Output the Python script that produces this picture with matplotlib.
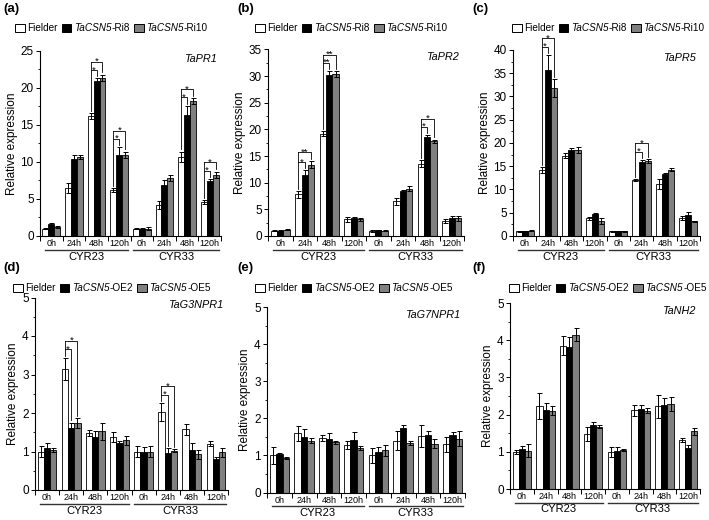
import matplotlib
matplotlib.use("Agg")
import matplotlib.pyplot as plt
import matplotlib.transforms as mtransforms
from matplotlib.ticker import MultipleLocator, FixedLocator
from matplotlib.offsetbox import HPacker, TextArea, DrawingArea, AnchoredOffsetbox
from matplotlib.patches import Rectangle

plt.rcParams['font.family'] = ['Liberation Sans', 'DejaVu Sans']

# ---------------- data ----------------
time_labels = ["0h", "24h", "48h", "120h", "0h", "24h", "48h", "120h"]
strain_labels = ["CYR23", "CYR33"]

# (a) TaPR1
pr1_fielder = [1.0, 6.5, 16.2, 6.2, 1.0, 4.2, 10.7, 4.6]
pr1_fielder_err = [0.1, 0.7, 0.4, 0.3, 0.1, 0.5, 0.7, 0.3]
pr1_ri8 = [1.6, 10.4, 21.0, 11.0, 1.0, 6.9, 16.4, 7.4]
pr1_ri8_err = [0.1, 0.5, 0.3, 1.0, 0.1, 0.7, 1.2, 0.3]
pr1_ri10 = [1.2, 10.7, 21.4, 11.0, 1.0, 7.8, 18.2, 8.3]
pr1_ri10_err = [0.1, 0.3, 0.4, 0.4, 0.2, 0.4, 0.4, 0.4]
pr1_sig = [(2, "*", "*"), (3, "*", "*"), (6, "*", "*"), (7, "*", "*")]

# (b) TaPR2
pr2_fielder = [1.0, 7.8, 19.2, 3.1, 1.0, 6.5, 13.6, 2.8]
pr2_fielder_err = [0.1, 0.6, 0.5, 0.4, 0.2, 0.7, 0.6, 0.3]
pr2_ri8 = [1.0, 11.5, 30.3, 3.3, 1.1, 8.5, 18.6, 3.3]
pr2_ri8_err = [0.1, 0.8, 0.6, 0.3, 0.1, 0.2, 0.3, 0.5]
pr2_ri10 = [1.2, 13.4, 30.4, 3.1, 1.0, 8.9, 17.8, 3.3]
pr2_ri10_err = [0.1, 0.7, 0.5, 0.3, 0.1, 0.4, 0.3, 0.5]
pr2_sig = [(1, "*", "**"), (2, "**", "**"), (6, "*", "*")]

# (c) TaPR5
pr5_fielder = [1.0, 14.2, 17.3, 3.8, 1.0, 12.0, 11.2, 3.9]
pr5_fielder_err = [0.1, 0.6, 0.6, 0.3, 0.1, 0.2, 1.0, 0.5]
pr5_ri8 = [1.0, 35.7, 18.5, 4.8, 1.0, 15.9, 13.3, 4.5]
pr5_ri8_err = [0.1, 3.2, 0.5, 0.1, 0.1, 0.4, 0.3, 0.7]
pr5_ri10 = [1.1, 31.8, 18.5, 3.2, 1.0, 16.1, 14.3, 3.2]
pr5_ri10_err = [0.1, 2.0, 0.6, 0.7, 0.1, 0.4, 0.4, 0.1]
pr5_sig = [(1, "*", "*"), (5, "*", "*")]

# (d) TaG3NPR1
g3_fielder = [1.0, 3.15, 1.48, 1.37, 1.0, 2.02, 1.58, 1.2]
g3_fielder_err = [0.13, 0.28, 0.07, 0.13, 0.13, 0.23, 0.14, 0.06]
g3_oe2 = [1.1, 1.6, 1.37, 1.22, 1.0, 0.97, 1.04, 0.8]
g3_oe2_err = [0.12, 0.15, 0.17, 0.06, 0.12, 0.12, 0.19, 0.05]
g3_oe5 = [1.04, 1.73, 1.52, 1.29, 1.0, 1.02, 0.93, 0.98]
g3_oe5_err = [0.04, 0.13, 0.22, 0.12, 0.14, 0.04, 0.12, 0.12]
g3_sig = [(1, "*", "*"), (5, "*", "*")]

# (e) TaG7NPR1
g7_fielder = [1.0, 1.6, 1.47, 1.28, 1.0, 1.4, 1.53, 1.3]
g7_fielder_err = [0.23, 0.2, 0.08, 0.1, 0.2, 0.25, 0.3, 0.2]
g7_oe2 = [1.03, 1.5, 1.43, 1.42, 1.1, 1.73, 1.55, 1.54]
g7_oe2_err = [0.04, 0.22, 0.18, 0.2, 0.13, 0.08, 0.12, 0.1]
g7_oe5 = [0.93, 1.4, 1.35, 1.2, 1.14, 1.33, 1.32, 1.45]
g7_oe5_err = [0.03, 0.07, 0.04, 0.06, 0.15, 0.06, 0.13, 0.2]
g7_sig = []

# (f) TaNH2
nh2_fielder = [1.0, 2.22, 3.85, 1.48, 1.0, 2.12, 2.22, 1.32]
nh2_fielder_err = [0.06, 0.35, 0.25, 0.18, 0.13, 0.15, 0.3, 0.06]
nh2_oe2 = [1.08, 2.13, 3.82, 1.72, 1.03, 2.15, 2.27, 1.1]
nh2_oe2_err = [0.07, 0.17, 0.27, 0.07, 0.1, 0.1, 0.17, 0.09]
nh2_oe5 = [1.03, 2.1, 4.15, 1.68, 1.04, 2.1, 2.28, 1.55]
nh2_oe5_err = [0.17, 0.12, 0.18, 0.03, 0.03, 0.07, 0.18, 0.1]
nh2_sig = []

# legend entries: (italic part, upright part)
ri_legend = [("", "Fielder"), ("TaCSN5", "-Ri8"), ("TaCSN5", "-Ri10")]
oe_legend = [("", "Fielder"), ("TaCSN5", "-OE2"), ("TaCSN5", "-OE5")]

panels = [
    dict(tag="(a)", gene="TaPR1", means=[pr1_fielder, pr1_ri8, pr1_ri10],
         errs=[pr1_fielder_err, pr1_ri8_err, pr1_ri10_err], sig=pr1_sig,
         ymax=25, major=5, legend=ri_legend,
         px=(40, 221, 51, 236), leg=(15, 28), lab=(3, 9)),
    dict(tag="(b)", gene="TaPR2", means=[pr2_fielder, pr2_ri8, pr2_ri10],
         errs=[pr2_fielder_err, pr2_ri8_err, pr2_ri10_err], sig=pr2_sig,
         ymax=35, major=5, legend=ri_legend,
         px=(268, 464, 49.5, 236), leg=(255, 28), lab=(237, 9)),
    dict(tag="(c)", gene="TaPR5", means=[pr5_fielder, pr5_ri8, pr5_ri10],
         errs=[pr5_fielder_err, pr5_ri8_err, pr5_ri10_err], sig=pr5_sig,
         ymax=40, major=5, legend=ri_legend,
         px=(513, 700, 50, 236), leg=(512, 28), lab=(472, 9)),
    dict(tag="(d)", gene="TaG3NPR1", means=[g3_fielder, g3_oe2, g3_oe5],
         errs=[g3_fielder_err, g3_oe2_err, g3_oe5_err], sig=g3_sig,
         ymax=5, major=1, legend=oe_legend,
         px=(35, 228, 297.5, 490), leg=(13, 288), lab=(3, 268)),
    dict(tag="(e)", gene="TaG7NPR1", means=[g7_fielder, g7_oe2, g7_oe5],
         errs=[g7_fielder_err, g7_oe2_err, g7_oe5_err], sig=g7_sig,
         ymax=5, major=1, legend=oe_legend,
         px=(267, 465, 307, 492.5), leg=(255, 288), lab=(237, 268)),
    dict(tag="(f)", gene="TaNH2", means=[nh2_fielder, nh2_oe2, nh2_oe5],
         errs=[nh2_fielder_err, nh2_oe2_err, nh2_oe5_err], sig=nh2_sig,
         ymax=5, major=1, legend=oe_legend,
         px=(510, 700, 303, 489), leg=(509, 288), lab=(472, 268)),
]

W, H = 709, 520
fig = plt.figure(figsize=(W / 100, H / 100), dpi=100)

colors = ["white", "black", "#808080"]
bw = 0.26
offsets = [-bw, 0, bw]
LEG_FS = 7.2


def legend_box(entries):
    items = []
    for k, (it, rm) in enumerate(entries):
        da = DrawingArea(7.0, 5.2, 0, 0)
        da.add_artist(Rectangle((0, 0), 7.0, 5.2, facecolor=colors[k],
                                edgecolor="black", linewidth=0.7))
        parts = []
        if it:
            parts.append(TextArea(it, textprops=dict(fontsize=LEG_FS, fontstyle="italic")))
        parts.append(TextArea(rm, textprops=dict(fontsize=LEG_FS)))
        txt = HPacker(children=parts, sep=0, pad=0, align="baseline")
        items.append(HPacker(children=[da, txt], sep=1.8, pad=0, align="center"))
    return HPacker(children=items, sep=3.0, pad=0, align="center")


for p in panels:
    l, r, t, b = p["px"]
    ax = fig.add_axes([l / W, 1 - b / H, (r - l) / W, (b - t) / H])
    ymax = p["ymax"]
    x = list(range(len(time_labels)))
    for k in range(3):
        xs = [xi + offsets[k] for xi in x]
        ax.bar(xs, p["means"][k], width=bw, color=colors[k], edgecolor="black",
               linewidth=0.6, zorder=2)
        ax.errorbar(xs, p["means"][k], yerr=p["errs"][k], fmt="none", ecolor="black",
                    elinewidth=0.7, capsize=1.8, capthick=0.7, zorder=3)

    # significance brackets
    pad = 0.045 * ymax
    gap = 0.012 * ymax
    for (c, s_in, s_out) in p["sig"]:
        tops = [p["means"][k][c] + p["errs"][k][c] for k in range(3)]
        x0, x1, x2 = c + offsets[0], c + offsets[1], c + offsets[2]
        inner = max(tops[0], tops[1]) + pad
        outer = max(inner, tops[2]) + pad
        kw = dict(color="black", lw=0.6, clip_on=False, zorder=4)
        ax.plot([x0, x0], [tops[0] + gap, outer], **kw)
        ax.plot([x0, x1, x1], [inner, inner, tops[1] + gap], **kw)
        ax.plot([x0, x2, x2], [outer, outer, tops[2] + gap], **kw)
        for (xm, ym, s) in (((x0 + x1) / 2, inner, s_in), ((x0 + x2) / 2, outer, s_out)):
            ax.annotate(s, xy=(xm, ym), xytext=(0, -1.6), textcoords="offset points",
                        ha="center", va="baseline", fontsize=6.8, annotation_clip=False)

    ax.set_xlim(-0.5, 7.5)
    ax.set_ylim(0, ymax)
    for s in ["top", "right"]:
        ax.spines[s].set_visible(False)
    for s in ["left", "bottom"]:
        ax.spines[s].set_linewidth(0.8)
    ax.yaxis.set_major_locator(MultipleLocator(p["major"]))
    ax.yaxis.set_minor_locator(MultipleLocator(p["major"] / 2))
    ax.tick_params(axis="y", which="major", length=3, width=0.7, labelsize=8.5, pad=1.5)
    ax.tick_params(axis="y", which="minor", length=1.8, width=0.6)
    ax.set_xticks(x)
    ax.set_xticklabels(time_labels)
    ax.xaxis.set_minor_locator(FixedLocator([xi - 0.5 for xi in x] + [7.5]))
    ax.tick_params(axis="x", which="major", length=0, labelsize=6.5, pad=2.5)
    ax.tick_params(axis="x", which="minor", length=3.5, width=0.7)
    ax.set_ylabel("Relative expression", fontsize=8.5, labelpad=2)

    ax.text(0.975, 0.985, p["gene"], transform=ax.transAxes, ha="right", va="top",
            fontsize=7.8, fontstyle="italic")

    # strain group lines and labels under the axis
    row_top = t < 100
    line_off = 14.0 if row_top else 13.5
    lab_off = 21.5 if row_top else 20.5
    base = mtransforms.blended_transform_factory(ax.transData, ax.transAxes)
    tr_line = base + mtransforms.ScaledTranslation(0, -line_off / 100, fig.dpi_scale_trans)
    tr_lab = base + mtransforms.ScaledTranslation(0, -lab_off / 100, fig.dpi_scale_trans)
    for gi, name in enumerate(strain_labels):
        xa, xb = (-0.3, 3.4) if gi == 0 else (3.62, 7.4)
        ax.plot([xa, xb], [0, 0], transform=tr_line, color="#333333", lw=1.0,
                clip_on=False)
        ax.text((xa + xb) / 2, 0, name, transform=tr_lab, ha="center", va="center",
                fontsize=8)

    lx, ly = p["leg"]
    anchored = AnchoredOffsetbox(loc="center left", child=legend_box(p["legend"]),
                                 bbox_to_anchor=(lx / W, 1 - ly / H),
                                 bbox_transform=fig.transFigure, frameon=False,
                                 pad=0, borderpad=0)
    fig.add_artist(anchored)

    labx, laby = p["lab"]
    fig.text(labx / W, 1 - laby / H, p["tag"], fontsize=9.5, fontweight="bold",
             ha="left", va="center")

fig.savefig("out.png", dpi=100)
